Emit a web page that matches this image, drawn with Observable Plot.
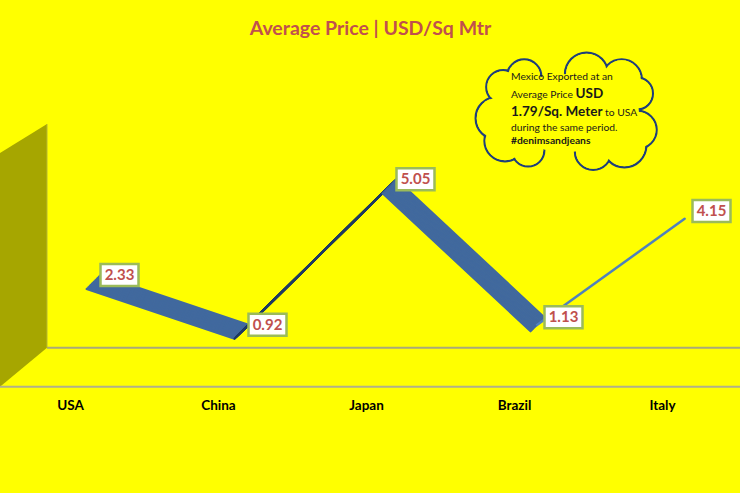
<!DOCTYPE html>
<html><head><meta charset="utf-8">
<script src="https://cdn.jsdelivr.net/npm/d3@7"></script>
<script src="https://cdn.jsdelivr.net/npm/@observablehq/plot@0.6"></script>
<style>
html,body{margin:0;padding:0;background:#FFFF00;}
#chart{width:740px;height:493px;overflow:hidden;}
</style></head><body><div id="chart"></div>
<script>
// ---- data ----
const countries = ["USA", "China", "Japan", "Brazil", "Italy"];
const prices = [2.33, 0.92, 5.05, 1.13, 4.15];
const title = "Average Price | USD/Sq Mtr";
const noteLine1 = [["Mexico Exported at an", false]];
const noteLine2 = [["Average Price ", false], ["USD", true]];
const noteLine3 = [["1.79/Sq. Meter", true], [" to USA", false]];
const noteLine4 = [["during the same period.", false]];
const noteLine5 = [["#denimsandjeans", true]];

// ---- derived tables ----
const rows = countries.map((c, i) => ({country: c, price: prices[i]}));
const segments = countries.slice(0, -1).map((c, i) => ({
  seg: i, x1: c, y1: prices[i], x2: countries[i + 1], y2: prices[i + 1]
}));

// ---- styles ----
const BG = "#FFFF00";
const segColors = ["#41699E", "#1F3A62", "#41699E", "#4F81BD"];
const depthX = -14, depthY = 14, backDx = 30, steps = 16;

const boxSymbol = { draw(ctx) { ctx.rect(-19, -11, 38, 22); } };

function decor(index, {x, y}) {
  const g = d3.create("svg:g");
  const wallX = x(countries[0]) - 23;
  const back = y(0) - 9, front = y(0) + 30, top = y(6.6);
  g.append("path")
    .attr("d", `M0,${top + 29}L${wallX},${top}L${wallX},${back}L0,${front}Z`)
    .attr("fill", "#A6A600");
  g.append("line").attr("x1", wallX).attr("x2", 740).attr("y1", back).attr("y2", back)
    .attr("stroke", "#A9A97A").attr("stroke-width", 2);
  g.append("line").attr("x1", 0).attr("x2", 740).attr("y1", front).attr("y2", front)
    .attr("stroke", "#B0B08A").attr("stroke-width", 2);
  g.append("line").attr("x1", wallX).attr("x2", wallX).attr("y1", top).attr("y2", back)
    .attr("stroke", "#B9B930").attr("stroke-width", 1);
  return g.node();
}

function cloud() {
  const g = d3.create("svg:g");
  const cx = 568, cy = 113, rx = 71, ry = 39, n = 11, p = 0.6;
  const sp = v => Math.sign(v) * Math.pow(Math.abs(v), p);
  const pts = d3.range(n).map(i => {
    const a = 2 * Math.PI * i / n + 0.25;
    return [cx + rx * sp(Math.cos(a)), cy + ry * sp(Math.sin(a)), 19 + 3 * Math.sin(i * 1.7)];
  });
  g.selectAll(null).data(pts).join("circle")
    .attr("cx", d => d[0]).attr("cy", d => d[1]).attr("r", d => d[2])
    .attr("fill", "none").attr("stroke", "#1F3F7A").attr("stroke-width", 2.2);
  g.selectAll(null).data(pts).join("circle")
    .attr("cx", d => d[0]).attr("cy", d => d[1]).attr("r", d => d[2] - 1.1)
    .attr("fill", BG);
  g.append("ellipse").attr("cx", cx).attr("cy", cy).attr("rx", rx).attr("ry", ry).attr("fill", BG);
  const lines = [noteLine1, noteLine2, noteLine3, noteLine4, noteLine5];
  const baselines = [80, 98, 116, 131, 144];
  const t = g.append("text")
    .attr("font-family", "Lato, 'Open Sans', sans-serif")
    .attr("fill", "#1a1a1a")
    .attr("text-anchor", "start")
    .attr("style", "white-space:pre");
  lines.forEach((ln, i) => {
    ln.forEach(([txt, bold], j) => {
      const big = bold && i < 3 && i > 0;
      const ts = t.append("tspan").text(txt)
        .attr("font-size", big ? 13.5 : 10.3)
        .attr("font-weight", bold ? "bold" : "normal");
      if (j === 0) ts.attr("x", 511).attr("y", baselines[i]);
    });
  });
  return g.node();
}

const ribbon = [];
for (let k = 0; k <= steps; k++) {
  segments.forEach(s => {
    if (s.seg === 3 && k !== Math.round(steps * 0.55)) return;
    ribbon.push(Plot.link([s], {
      x1: "x1", y1: "y1", x2: "x2", y2: "y2",
      stroke: segColors[s.seg], strokeWidth: s.seg === 3 ? 2.5 : 2, strokeLinecap: "round",
      dx: backDx + depthX * k / steps, dy: depthY * k / steps
    }));
  });
}

const chart = Plot.plot({
  width: 740,
  height: 493,
  marginTop: 0, marginLeft: 0, marginRight: 0, marginBottom: 100,
  style: {background: BG, fontFamily: "Lato, 'Open Sans', sans-serif", color: "black", overflow: "visible"},
  x: {type: "point", domain: countries, range: [68, 663], padding: 0},
  y: {domain: [0, 6], range: [356.7, 145.2], axis: null},
  marks: [
    decor,
    ...ribbon,
    Plot.dot(rows, {x: "country", y: "price", symbol: boxSymbol, r: 5, dx: backDx + 19,
      fill: "white", stroke: "#9BBB59", strokeWidth: 2.5}),
    Plot.text(rows, {x: "country", y: "price", text: d => d.price.toFixed(2), dx: backDx + 19,
      fill: "#C0504D", fontWeight: "bold", fontSize: 15}),
    cloud,
    Plot.text([title], {frameAnchor: "top", dy: 21, fill: "#C0504D", fontWeight: "bold", fontSize: 19.5}),
    Plot.axisX({anchor: "bottom", tickSize: 0, tickPadding: 7, fontSize: 13.5, fontWeight: "bold", label: null})
  ]
});
document.getElementById("chart").append(chart);
</script>
</body></html>
